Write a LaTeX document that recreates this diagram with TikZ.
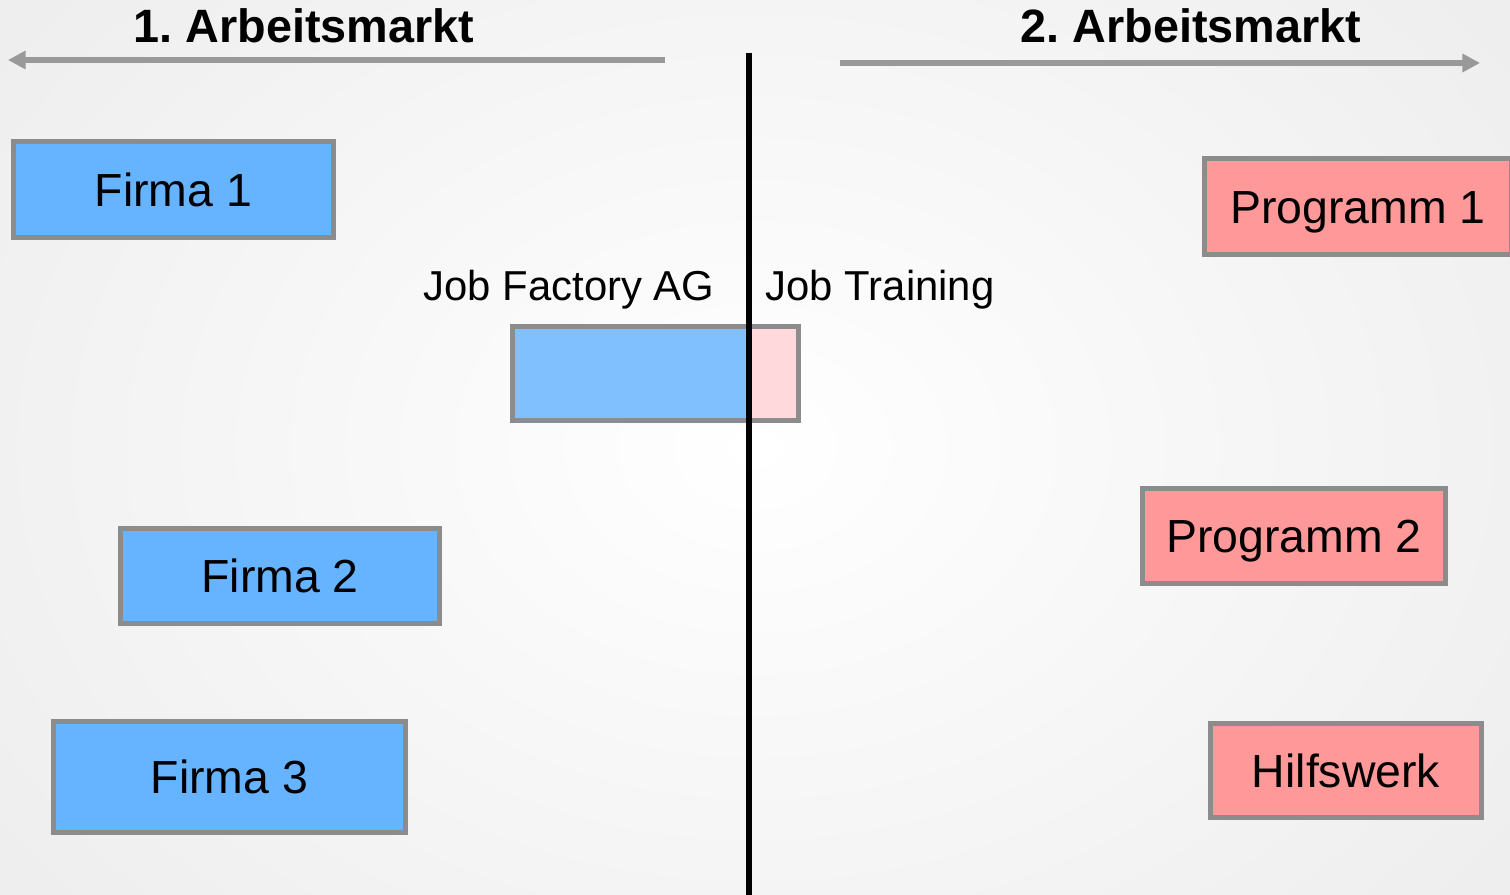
\documentclass[tikz,border=0pt]{standalone}
\usepackage{fontspec}
\setmainfont{Liberation Sans}
\usetikzlibrary{arrows.meta}

\definecolor{firmablue}{HTML}{66B3FF}
\definecolor{jfblue}{HTML}{80C0FF}
\definecolor{progred}{HTML}{FF9999}
\definecolor{trainpink}{HTML}{FFD9DB}
\definecolor{boxgray}{HTML}{8C8C8C}
\definecolor{arrowgray}{HTML}{999999}

\tikzset{
  box/.style={rectangle, draw=boxgray, line width=1.4pt, inner sep=0pt, text height=9.45pt, text depth=0pt, font=\fontsize{13.2}{15}\selectfont},
  firma/.style={box, fill=firmablue},
  programm/.style={box, fill=progred},
  title/.style={font=\fontsize{13.3}{15}\selectfont\bfseries},
  lbl/.style={font=\fontsize{11.9}{14}\selectfont, inner sep=0pt, text height=8.52pt, text depth=0pt}
}

\begin{document}
\begin{tikzpicture}[x=0.01cm, y=-0.01cm]
        % Background with light radial shading
        \useasboundingbox (0,0) rectangle (1510,895);
        \clip (0,0) rectangle (1510,895);
        \shade[inner color=white, outer color=black!9] (-500,-500) rectangle (2010,1395);

        % Firms of the first labour market
        \foreach \name/\txt/\x/\y/\w/\h in {firma1/Firma 1/173.5/189.5/3.20/0.96, firma2/Firma 2/280/576/3.19/0.95, firma3/Firma 3/229.5/777/3.52/1.11} {
            \node[firma, minimum width=\w cm, minimum height=\h cm] (\name) at (\x,\y) {\txt};
 }

        % Programmes of the second labour market
        \foreach \name/\txt/\x/\y/\w/\h in {prog1/Programm 1/1358/206.5/3.06/0.96, prog2/Programm 2/1294/536/3.03/0.95, hilfswerk/Hilfswerk/1346/770.5/2.71/0.94} {
            \node[programm, minimum width=\w cm, minimum height=\h cm] (\name) at (\x,\y) {\txt};
 }

        % Job Factory AG with its training part
        \node[box, fill=jfblue, minimum width=2.365cm, minimum height=0.94cm] (jobfactory) at (630.75,373.5) {};
        \node[box, fill=trainpink, minimum width=0.495cm, minimum height=0.94cm] (jobtraining) at (773.75,373.5) {};
        \node[lbl, anchor=east] (jflabel) at (715,286) {Job Factory AG};
        \node[lbl, anchor=west] (jtlabel) at (765,286) {Job Training};

        % Titles
        \node[title] (markt1) at (304,26) {1.\ Arbeitsmarkt};
        \node[title] (markt2) at (1191,26) {2.\ Arbeitsmarkt};

        % Arrows below the titles
        \coordinate (a1start) at (665,60);
        \coordinate (a1end) at (8,60);
        \coordinate (a2start) at (840,63);
        \coordinate (a2end) at (1480,63);
        \draw[arrowgray, line width=1.7pt, -{Triangle[length=5pt, width=5pt]}] (a1start) -- (a1end);
        \draw[arrowgray, line width=1.7pt, -{Triangle[length=5pt, width=5pt]}] (a2start) -- (a2end);

        % Dividing line
        \coordinate (divtop) at (749,53);
        \coordinate (divbottom) at (749,900);
        \draw[line width=1.7pt] (divtop) -- (divbottom);
    \end{tikzpicture}
\end{document}
